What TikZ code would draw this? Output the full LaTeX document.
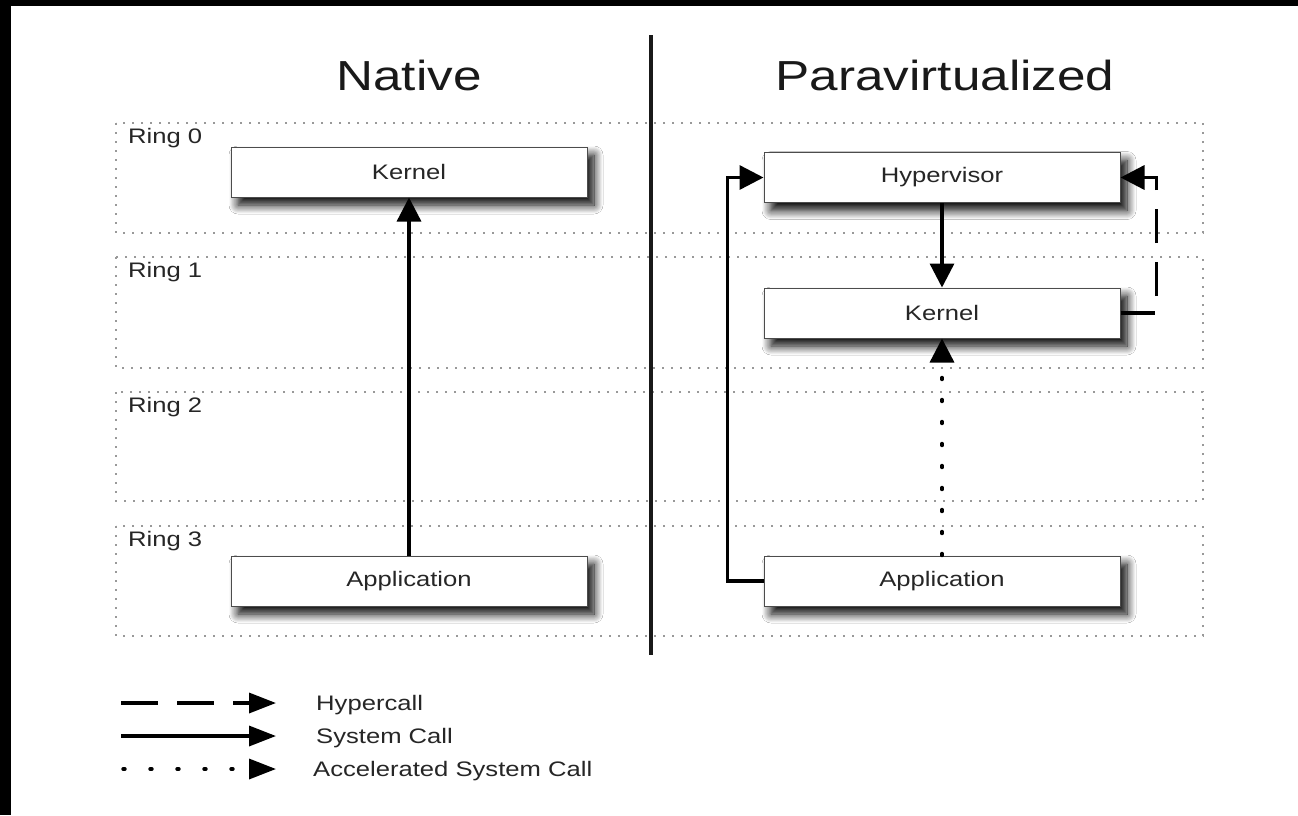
\documentclass[tikz,border=0pt]{standalone}
\usepackage{fontspec}
\setmainfont{Liberation Sans}[FakeStretch=1.22]
\usetikzlibrary{arrows.meta,shadows.blur}
\begin{document}
\begin{tikzpicture}[x=1pt,y=-1pt,
  ring/.style={draw=black!40, line width=1.2pt, dash pattern=on 2pt off 7pt},
  box/.style={draw=black!70, line width=1pt, fill=white, minimum width=356pt,
    minimum height=50pt, inner sep=0pt, font=\fontsize{21}{24}\selectfont, text=black!85,
    blur shadow={shadow xshift=7pt, shadow yshift=-8pt, shadow blur steps=12,
      shadow blur radius=9pt, shadow opacity=100}},
  ringlabel/.style={anchor=base west, inner sep=0pt, font=\fontsize{21}{24}\selectfont, text=black!85},
  title/.style={anchor=base, inner sep=0pt, font=\fontsize{42}{48}\selectfont, text=black!90},
  legendtext/.style={anchor=base west, inner sep=0pt, font=\fontsize{21}{24}\selectfont, text=black!85},
  call/.style={line width=3.4pt, -{Triangle[length=24pt,width=24pt]}},
  hyper/.style={call, dash pattern=on 34pt off 19pt},
  accel/.style={call, line cap=round, dash pattern=on 2pt off 20pt},
  lcall/.style={line width=3.4pt, -{Triangle[length=27pt,width=20pt]}},
  lhyper/.style={lcall, dash pattern=on 37pt off 19pt},
  laccel/.style={lcall, line cap=round, dash pattern=on 2pt off 25pt},
]
\useasboundingbox (0,0) rectangle (1298,815);
\fill[black] (0,0) rectangle (1298,815);
\fill[white] (11,6) rectangle (1298,815);

% rings
\draw[ring] (116,123) rectangle (1203,233);
\draw[ring] (116,257) rectangle (1203,368);
\draw[ring] (116,392) rectangle (1203,501);
\draw[ring] (116,526) rectangle (1203,636);
\node[ringlabel] (r0) at (128,143) {Ring 0};
\node[ringlabel] (r1) at (128,277) {Ring 1};
\node[ringlabel] (r2) at (128,412) {Ring 2};
\node[ringlabel] (r3) at (128,546) {Ring 3};

% separator and titles
\coordinate (sepTop) at (651,35);
\coordinate (sepBot) at (651,655);
\draw[line width=3.5pt, black!90] (sepTop) -- (sepBot);
\node[title] (tn) at (409,90) {Native};
\node[title] (tp) at (945,90) {Paravirtualized};

% native
\node[box] (nk) at (409,172) {Kernel};
\node[box] (na) at (409,581) {Application};
\draw[call] (na.north) -- (nk.south);

% paravirtualized
\node[box] (ph) at (942,177.5) {Hypervisor};
\node[box] (pk) at (942,313) {Kernel};
\node[box] (pa) at (942,581) {Application};
\draw[call] (ph.south) -- (pk.north);
\draw[call] (pa.west) -- ++(-36,0) |- (ph.west);
\draw[hyper] (pk.east) -- ++(36,0) |- (ph.east);
\draw[accel] (pa.north) -- (pk.south);

% legend
\coordinate (l1s) at (121,703); \coordinate (l1e) at (276,703);
\coordinate (l2s) at (121,736); \coordinate (l2e) at (276,736);
\coordinate (l3s) at (123,769); \coordinate (l3e) at (276,769);
\draw[lhyper] (l1s) -- (l1e);
\draw[lcall] (l2s) -- (l2e);
\draw[laccel] (l3s) -- (l3e);
\node[legendtext] (t1) at (316,710) {Hypercall};
\node[legendtext] (t2) at (316,743) {System Call};
\node[legendtext] (t3) at (313,776) {Accelerated System Call};
\end{tikzpicture}
\end{document}
